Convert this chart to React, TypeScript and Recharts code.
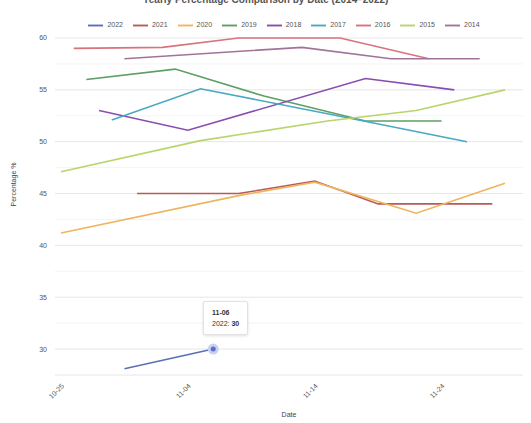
import React from 'react';
import {
  LineChart,
  Line,
  XAxis,
  YAxis,
  CartesianGrid,
  Tooltip,
  Legend,
  ReferenceLine
} from 'recharts';

// day labels on the x axis (one per day)
const dates = [
  '10-25', '10-26', '10-27', '10-28', '10-29', '10-30', '10-31',
  '11-01', '11-02', '11-03', '11-04', '11-05', '11-06', '11-07',
  '11-08', '11-09', '11-10', '11-11', '11-12', '11-13', '11-14',
  '11-15', '11-16', '11-17', '11-18', '11-19', '11-20', '11-21',
  '11-22', '11-23', '11-24', '11-25', '11-26', '11-27', '11-28', '11-29'
];
const xTicks = ['10-25', '11-04', '11-14', '11-24'];
const yTicks = [30, 35, 40, 45, 50, 55, 60];
const minorTicks = [32.5, 37.5, 42.5, 47.5, 52.5, 57.5];

const years = ['2022', '2021', '2020', '2019', '2018', '2017', '2016', '2015', '2014'];
const colors = ['#5b6fb8', '#b95a55', '#f0b35e', '#5c9f62', '#8a4cae', '#4aa9c2', '#d8737b', '#b9d46c', '#a27399'];

// [date, percentage] readings per year
const y2022: [string, number][] = [['10-30', 28.1], ['11-06', 30]];
const y2021: [string, number][] = [['10-31', 45], ['11-08', 45], ['11-14', 46.2], ['11-19', 44], ['11-28', 44]];
const y2020: [string, number][] = [['10-25', 41.2], ['11-08', 44.8], ['11-14', 46.1], ['11-22', 43.1], ['11-29', 46]];
const y2019: [string, number][] = [['10-27', 56], ['11-03', 57], ['11-10', 54.4], ['11-18', 52], ['11-24', 52]];
const y2018: [string, number][] = [['10-28', 53], ['11-04', 51.1], ['11-18', 56.1], ['11-25', 55]];
const y2017: [string, number][] = [['10-29', 52.1], ['11-05', 55.1], ['11-15', 52.7], ['11-26', 50]];
const y2016: [string, number][] = [['10-26', 59], ['11-02', 59.1], ['11-08', 60], ['11-16', 60], ['11-23', 58]];
const y2015: [string, number][] = [['10-25', 47.1], ['11-05', 50.1], ['11-15', 52], ['11-22', 53], ['11-29', 55]];
const y2014: [string, number][] = [['10-30', 58], ['11-13', 59.1], ['11-20', 58], ['11-27', 58]];

const seriesPoints: Record<string, [string, number][]> = {
  '2022': y2022, '2021': y2021, '2020': y2020, '2019': y2019, '2018': y2018,
  '2017': y2017, '2016': y2016, '2015': y2015, '2014': y2014
};

const chartData = dates.map(date => {
  const row: Record<string, any> = { date };
  years.forEach(y => {
    const hit = seriesPoints[y].find(p => p[0] === date);
    row[y] = hit ? hit[1] : null;
  });
  return row;
});

const TipBox = ({ active, payload, label }: any) => {
  if (!active || !payload) return null;
  const rows = payload.filter((p: any) => p.value != null);
  return (
    <div style={{
      background: '#fff',
      border: '1px solid #e2e2e2',
      borderRadius: 2,
      padding: '5px 8px',
      fontSize: 7,
      lineHeight: '11px',
      color: '#333',
      boxShadow: '0 1px 3px rgba(0,0,0,0.12)'
    }}>
      <div style={{ fontWeight: 'bold' }}>{label}</div>
      {rows.map((p: any) => (
        <div key={p.name}>{p.name}: <b>{p.value}</b></div>
      ))}
    </div>
  );
};

export default function App() {
  return (
    <div style={{ position: 'absolute', left: 0, top: 0, width: 531, height: 423, background: '#fff', fontFamily: '"Liberation Sans", Arial, sans-serif' }}>
      <div style={{ position: 'absolute', top: -6, width: 531, textAlign: 'center', fontSize: 10, fontWeight: 'bold', color: '#555' }}>
        Yearly Percentage Comparison by Date (2014–2022)
      </div>
      <LineChart width={531} height={423} data={chartData} margin={{ top: 23, right: 8, bottom: 0, left: 0 }}>
        <CartesianGrid vertical={false} stroke="#e6e6e6" />
        {minorTicks.map(v => (
          <ReferenceLine key={v} y={v} stroke="#f4f4f4" ifOverflow="extendDomain" />
        ))}
        <XAxis
          dataKey="date"
          ticks={xTicks}
          interval={0}
          angle={-45}
          textAnchor="end"
          height={48}
          padding={{ left: 6, right: 18 }}
          axisLine={false}
          tickLine={false}
          tick={{ fontSize: 7, fill: '#555' }}
          label={{ value: 'Date', position: 'insideBottom', offset: 6, fontSize: 7, fill: '#444' }}
        />
        <YAxis
          domain={[27.5, 60]}
          ticks={yTicks}
          width={55}
          axisLine={false}
          tickLine={false}
          tick={{ fontSize: 7, fill: '#555' }}
          label={{ value: 'Percentage %', angle: -90, position: 'insideLeft', offset: 14, fontSize: 7, fill: '#444' }}
        />
        <Tooltip
          content={<TipBox />}
          defaultIndex={12}
          active={true}
          cursor={false}
          position={{ x: 203, y: 301 }}
          isAnimationActive={false}
        />
        <Legend
          verticalAlign="top"
          iconType="plainline"
          iconSize={15}
          itemSorter={(item: any) => years.indexOf(String(item.value))}
          wrapperStyle={{ top: 18, left: 55, width: 468, fontSize: 7 }}
          formatter={(value: string) => <span style={{ color: '#555' }}>{value}</span>}
        />
        {years.map((y, i) => (
          <Line
            key={y}
            type="linear"
            dataKey={y}
            name={y}
            stroke={colors[i]}
            strokeWidth={1.6}
            dot={false}
            activeDot={{ r: 4, fill: '#5b6fc4', stroke: '#c9d1f2', strokeWidth: 3 }}
            connectNulls
            isAnimationActive={false}
          />
        ))}
      </LineChart>
    </div>
  );
}
